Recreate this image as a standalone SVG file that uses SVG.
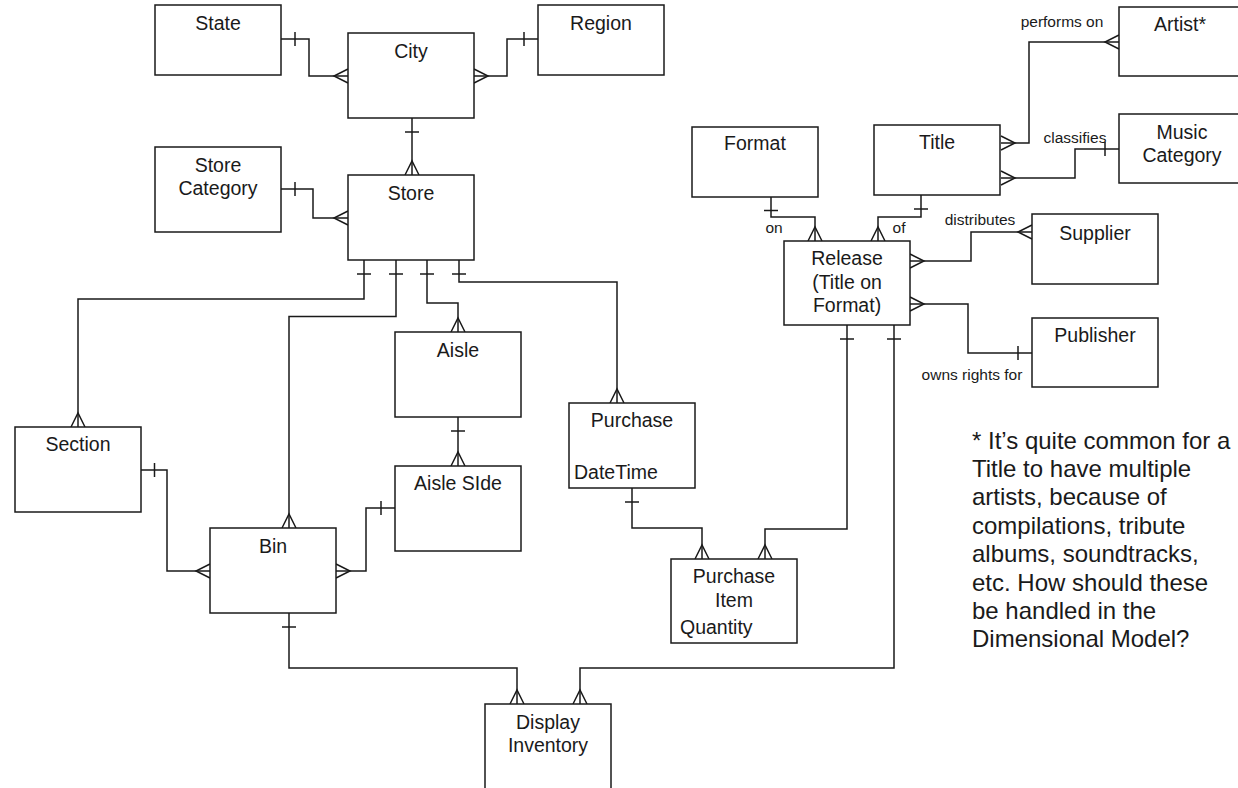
<svg xmlns="http://www.w3.org/2000/svg" width="1238" height="788" viewBox="0 0 1238 788">
<style>
.box{fill:#fff;stroke:#1a1a1a;stroke-width:1.5}
.t{font-family:"Liberation Sans",Arial,sans-serif;font-size:19.5px;fill:#1a1a1a;text-anchor:middle}
.tl{font-family:"Liberation Sans",Arial,sans-serif;font-size:19.5px;fill:#1a1a1a}
.lbl{font-family:"Liberation Sans",Arial,sans-serif;font-size:15.5px;fill:#1a1a1a;text-anchor:middle}
.note{font-family:"Liberation Sans",Arial,sans-serif;font-size:24px;fill:#1a1a1a}
.c{fill:none;stroke:#1a1a1a;stroke-width:1.5}
</style>
<rect width="1238" height="788" fill="#fff"/>
<g id="connectors" class="c">
  <!-- State - City -->
  <path d="M281,39 H309 V76 H348"/><path d="M295,32 V46"/><path d="M348,69 L334,76 L348,83"/>
  <!-- City - Region -->
  <path d="M474,76 H507 V39 H538"/><path d="M474,69 L488,76 L474,83"/><path d="M524,32 V46"/>
  <!-- City - Store -->
  <path d="M412,118 V175"/><path d="M405,132 H419"/><path d="M405,175 L412,161 L419,175"/>
  <!-- Store Category - Store -->
  <path d="M281,189 H313 V218 H348"/><path d="M295,182 V196"/><path d="M348,211 L334,218 L348,225"/>
  <!-- Store - Section -->
  <path d="M364,260 V299 H78 V427"/><path d="M357,274 H371"/><path d="M71,427 L78,413 L85,427"/>
  <!-- Store - Bin -->
  <path d="M396,260 V316.5 H289 V528"/><path d="M389,274 H403"/><path d="M282,528 L289,514 L296,528"/>
  <!-- Store - Aisle -->
  <path d="M427,260 V303 H458 V332"/><path d="M420,274 H434"/><path d="M451,332 L458,318 L465,332"/>
  <!-- Store - Purchase -->
  <path d="M459,260 V282 H617 V403"/><path d="M452,274 H466"/><path d="M610,403 L617,389 L624,403"/>
  <!-- Aisle - Aisle Side -->
  <path d="M458,417 V466"/><path d="M451,431 H465"/><path d="M451,466 L458,452 L465,466"/>
  <!-- Section - Bin -->
  <path d="M141,470 H167 V571 H210"/><path d="M154.5,463 V477"/><path d="M210,564 L196,571 L210,578"/>
  <!-- Bin - Aisle Side -->
  <path d="M336,571 H366 V508 H395"/><path d="M336,564 L350,571 L336,578"/><path d="M381,501 V515"/>
  <!-- Bin - Display Inventory -->
  <path d="M289,613 V668 H517 V704"/><path d="M282,627 H296"/><path d="M510,704 L517,690 L524,704"/>
  <!-- Release - Display Inventory -->
  <path d="M894,325 V668 H580 V704"/><path d="M887,339 H901"/><path d="M573,704 L580,690 L587,704"/>
  <!-- Purchase - Purchase Item -->
  <path d="M632,488 V528 H702 V559"/><path d="M625,502 H639"/><path d="M695,559 L702,545 L709,559"/>
  <!-- Release - Purchase Item -->
  <path d="M847,325 V529 H765 V559"/><path d="M840,339 H854"/><path d="M758,559 L765,545 L772,559"/>
  <!-- Format - Release -->
  <path d="M771,197 V217 H815 V241"/><path d="M764,210.5 H778"/><path d="M808,241 L815,227 L822,241"/>
  <!-- Title - Release -->
  <path d="M921,195 V217 H878 V241"/><path d="M914,209 H928"/><path d="M871,241 L878,227 L885,241"/>
  <!-- Title - Artist -->
  <path d="M1001,143 H1029 V42 H1119"/><path d="M1001,136 L1015,143 L1001,150"/><path d="M1119,35 L1105,42 L1119,49"/>
  <!-- Title - Music Category -->
  <path d="M1001,178 H1075 V149 H1119"/><path d="M1001,171 L1015,178 L1001,185"/><path d="M1105,142 V156"/>
  <!-- Release - Supplier -->
  <path d="M910,261 H971 V232 H1032"/><path d="M910,254 L924,261 L910,268"/><path d="M1032,225 L1018,232 L1032,239"/>
  <!-- Release - Publisher -->
  <path d="M910,304 H968 V353 H1032"/><path d="M910,297 L924,304 L910,311"/><path d="M1018,346 V360"/>
</g>
<g id="labels">
  <text class="lbl" x="1062" y="27">performs on</text>
  <text class="lbl" x="1075" y="142.5">classifies</text>
  <text class="lbl" x="774" y="232.5">on</text>
  <text class="lbl" x="899" y="233">of</text>
  <text class="lbl" x="980" y="225">distributes</text>
  <text class="lbl" x="972" y="380">owns rights for</text>
</g>
<g id="state"><rect class="box" x="155" y="5" width="126" height="70"/><text class="t" x="218" y="29.5">State</text></g>
<g id="city"><rect class="box" x="348" y="33" width="126" height="85"/><text class="t" x="411" y="57.5">City</text></g>
<g id="region"><rect class="box" x="538" y="5" width="126" height="70"/><text class="t" x="601" y="29.5">Region</text></g>
<g id="store-category"><rect class="box" x="155" y="147" width="126" height="85"/><text class="t" x="218" y="172">Store</text><text class="t" x="218" y="195.3">Category</text></g>
<g id="store"><rect class="box" x="348" y="175" width="126" height="85"/><text class="t" x="411" y="199.5">Store</text></g>
<g id="aisle"><rect class="box" x="395" y="332" width="126" height="85"/><text class="t" x="458" y="356.5">Aisle</text></g>
<g id="aisle-side"><rect class="box" x="395" y="466" width="126" height="85"/><text class="t" x="458" y="490.3">Aisle SIde</text></g>
<g id="section"><rect class="box" x="15" y="427" width="126" height="85"/><text class="t" x="78" y="451.3">Section</text></g>
<g id="bin"><rect class="box" x="210" y="528" width="126" height="85"/><text class="t" x="273" y="552.7">Bin</text></g>
<g id="purchase"><rect class="box" x="569" y="403" width="126" height="85"/><text class="t" x="632" y="427">Purchase</text><text class="tl" x="574" y="479.3">DateTime</text></g>
<g id="purchase-item"><rect class="box" x="671" y="559" width="126" height="84"/><text class="t" x="734" y="583">Purchase</text><text class="t" x="734" y="607">Item</text><text class="tl" x="680" y="633.7">Quantity</text></g>
<g id="display-inventory"><rect class="box" x="485" y="704" width="126" height="85"/><text class="t" x="548" y="729.3">Display</text><text class="t" x="548" y="752">Inventory</text></g>
<g id="format"><rect class="box" x="692" y="127" width="126" height="70"/><text class="t" x="755" y="150.3">Format</text></g>
<g id="title"><rect class="box" x="874" y="125" width="126" height="70"/><text class="t" x="937" y="149.3">Title</text></g>
<g id="artist"><rect class="box" x="1119" y="7" width="126" height="69"/><text class="t" x="1180" y="31.3">Artist*</text></g>
<g id="music-category"><rect class="box" x="1119" y="114" width="126" height="69"/><text class="t" x="1182" y="138.7">Music</text><text class="t" x="1182" y="162">Category</text></g>
<g id="release"><rect class="box" x="784" y="241" width="126" height="84"/><text class="t" x="847" y="265.3">Release</text><text class="t" x="847" y="288.7">(Title on</text><text class="t" x="847" y="312">Format)</text></g>
<g id="supplier"><rect class="box" x="1032" y="214" width="126" height="70"/><text class="t" x="1095" y="239.7">Supplier</text></g>
<g id="publisher"><rect class="box" x="1032" y="318" width="126" height="69"/><text class="t" x="1095" y="342">Publisher</text></g>
<g id="note">
  <text class="note" x="972" y="448.5">* It’s quite common for a</text>
  <text class="note" x="972" y="476.9">Title to have multiple</text>
  <text class="note" x="972" y="505.3">artists, because of</text>
  <text class="note" x="972" y="533.7">compilations, tribute</text>
  <text class="note" x="972" y="562.1">albums, soundtracks,</text>
  <text class="note" x="972" y="590.5">etc. How should these</text>
  <text class="note" x="972" y="618.9">be handled in the</text>
  <text class="note" x="972" y="647.3">Dimensional Model?</text>
</g>
</svg>
